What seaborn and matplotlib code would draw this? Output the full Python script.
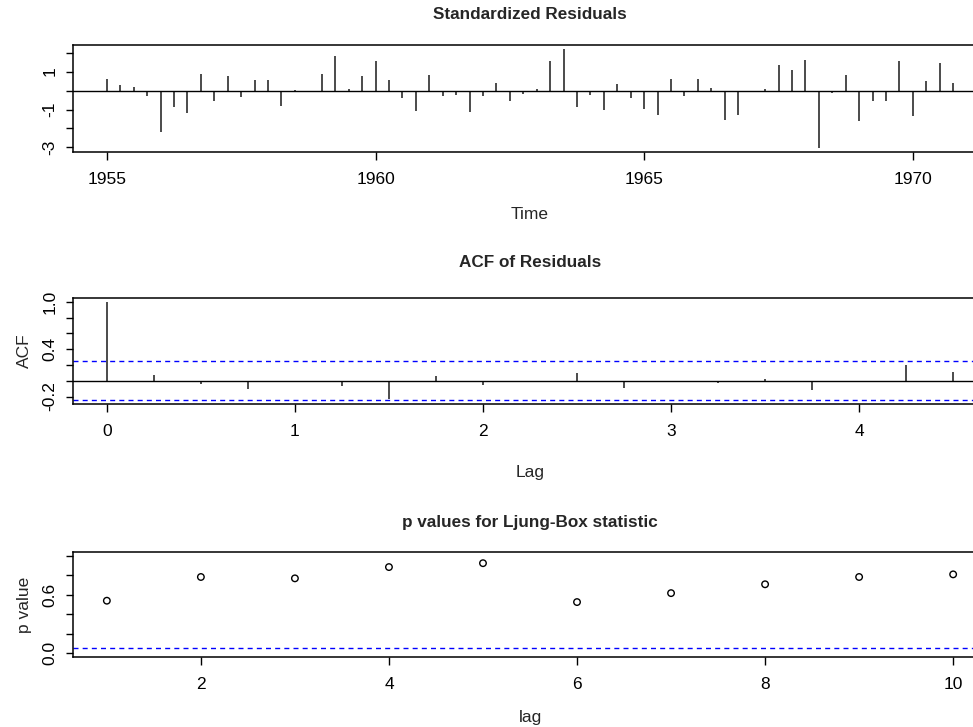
import numpy as np
import pandas as pd
import matplotlib
matplotlib.use("Agg")
import matplotlib.pyplot as plt
import seaborn as sns

# Standardized residuals of a quarterly model, 1955 Q1 - 1970 Q4
start_year = 1955
frequency = 4
std_resid = [0.61, 0.30, 0.21, -0.28, -2.21, -0.89, -1.21, 0.89, -0.54, 0.75,
             -0.35, 0.56, 0.56, -0.81, 0.02, -0.09, 0.89, 1.82, 0.09, 0.75,
             1.56, 0.56, -0.42, -1.07, 0.82, -0.28, -0.21, -1.14, -0.30, 0.42,
             -0.54, -0.16, 0.09, 1.54, 2.19, -0.89, -0.21, -1.02, 0.35, -0.37,
             -0.95, -1.28, 0.61, -0.28, 0.61, 0.14, -1.54, -1.28, -0.09, 0.07,
             1.35, 1.09, 1.61, -3.03, -0.14, 0.82, -1.61, -0.54, -0.54, 1.54,
             -1.35, 0.49, 1.47, 0.42]

# Autocorrelation of the residuals, lags 0..18 quarters
acf_values = [1.0, 0.076, -0.038, -0.10, -0.01, -0.063, -0.232, 0.055, -0.05,
              -0.013, 0.10, -0.097, -0.02, -0.034, 0.017, -0.114, -0.013,
              0.205, 0.115]
acf_ci = 0.245

# Ljung-Box p values
lb_lags = list(range(1, 11))
lb_pvalues = [0.539, 0.783, 0.769, 0.885, 0.925, 0.525, 0.617, 0.708, 0.783, 0.810]
lb_level = 0.05

resid_df = pd.DataFrame({
    "time": start_year + np.arange(len(std_resid)) / frequency,
    "resid": std_resid,
})
acf_df = pd.DataFrame({
    "lag": np.arange(len(acf_values)) / frequency,
    "acf": acf_values,
})
lb_df = pd.DataFrame({"lag": lb_lags, "p": lb_pvalues})

sns.set_style("ticks")
plt.rcParams["font.family"] = ["Liberation Sans", "DejaVu Sans"]
plt.rcParams["axes.linewidth"] = 1.1
plt.rcParams["xtick.major.size"] = 5.4
plt.rcParams["ytick.major.size"] = 5.4
plt.rcParams["xtick.major.width"] = 1.0
plt.rcParams["ytick.major.width"] = 1.0
plt.rcParams["xtick.major.pad"] = 8.8
plt.rcParams["ytick.major.pad"] = 6
plt.rcParams["xtick.labelsize"] = 12.5
plt.rcParams["ytick.labelsize"] = 12.5

W, H = 973, 727
fig = plt.figure(figsize=(W / 100, H / 100), dpi=100)

def px_axes(left, top, right, bottom):
    return fig.add_axes([left / W, 1 - bottom / H, (right - left) / W, (bottom - top) / H])

spike_color = "#1a1a1a"
blue_dash = dict(color="#0000ff", linewidth=1.0, linestyle=(0, (3.6, 3.0)))
title_kw = dict(fontsize=12.3, fontweight="bold")
label_kw = dict(fontsize=12.5)

def style_axes(ax):
    for s in ax.spines.values():
        s.set_visible(True)
        s.set_color("black")
    ax.tick_params(colors="black")
    for lab in ax.get_yticklabels():
        lab.set_rotation(90)
        lab.set_va("center")

# --- Standardized residuals ---
ax1 = px_axes(73, 45, 987, 152)
ax1.vlines(resid_df["time"], 0, resid_df["resid"], color=spike_color, linewidth=1.1)
ax1.axhline(0, color="black", linewidth=1.0)
ax1.set_xlim(1954.37, 1971.38)
ax1.set_ylim(-3.24, 2.40)
ax1.set_xticks([1955, 1960, 1965, 1970])
ax1.set_yticks([2, 1, 0, -1, -2, -3])
ax1.set_yticklabels(["", "1", "", "-1", "", "-3"])
ax1.set_title("Standardized Residuals", pad=19, **title_kw)
ax1.set_xlabel("Time", labelpad=14.5, **label_kw)
ax1.set_ylabel("")
style_axes(ax1)

# --- ACF of residuals ---
ax2 = px_axes(73, 298, 987, 404)
ax2.vlines(acf_df["lag"], 0, acf_df["acf"], color=spike_color, linewidth=1.1)
ax2.axhline(0, color="black", linewidth=1.0)
ax2.axhline(acf_ci, **blue_dash)
ax2.axhline(-acf_ci, **blue_dash)
ax2.set_xlim(-0.18, 4.68)
ax2.set_ylim(-0.295, 1.05)
ax2.set_xticks([0, 1, 2, 3, 4])
ax2.set_yticks([1.0, 0.8, 0.6, 0.4, 0.2, 0.0, -0.2])
ax2.set_yticklabels(["1.0", "", "", "0.4", "", "", "-0.2"])
ax2.set_title("ACF of Residuals", pad=22, **title_kw)
ax2.set_xlabel("Lag", labelpad=19, **label_kw)
ax2.set_ylabel("ACF", labelpad=7, **label_kw)
style_axes(ax2)

# --- Ljung-Box p values ---
ax3 = px_axes(73, 552, 987, 657)
sns.scatterplot(data=lb_df, x="lag", y="p", ax=ax3, marker="o", s=22,
                facecolor="none", edgecolor="black", linewidth=1.0)
ax3.axhline(lb_level, **blue_dash)
ax3.set_xlim(0.64, 10.36)
ax3.set_ylim(-0.04, 1.04)
ax3.set_xticks([2, 4, 6, 8, 10])
ax3.set_yticks([0.0, 0.2, 0.4, 0.6, 0.8, 1.0])
ax3.set_yticklabels(["0.0", "", "", "0.6", "", ""])
ax3.set_title("p values for Ljung-Box statistic", pad=18, **title_kw)
ax3.set_xlabel("lag", labelpad=13.5, **label_kw)
ax3.set_ylabel("p value", labelpad=7, **label_kw)
style_axes(ax3)

fig.savefig("out.png", dpi=100)
